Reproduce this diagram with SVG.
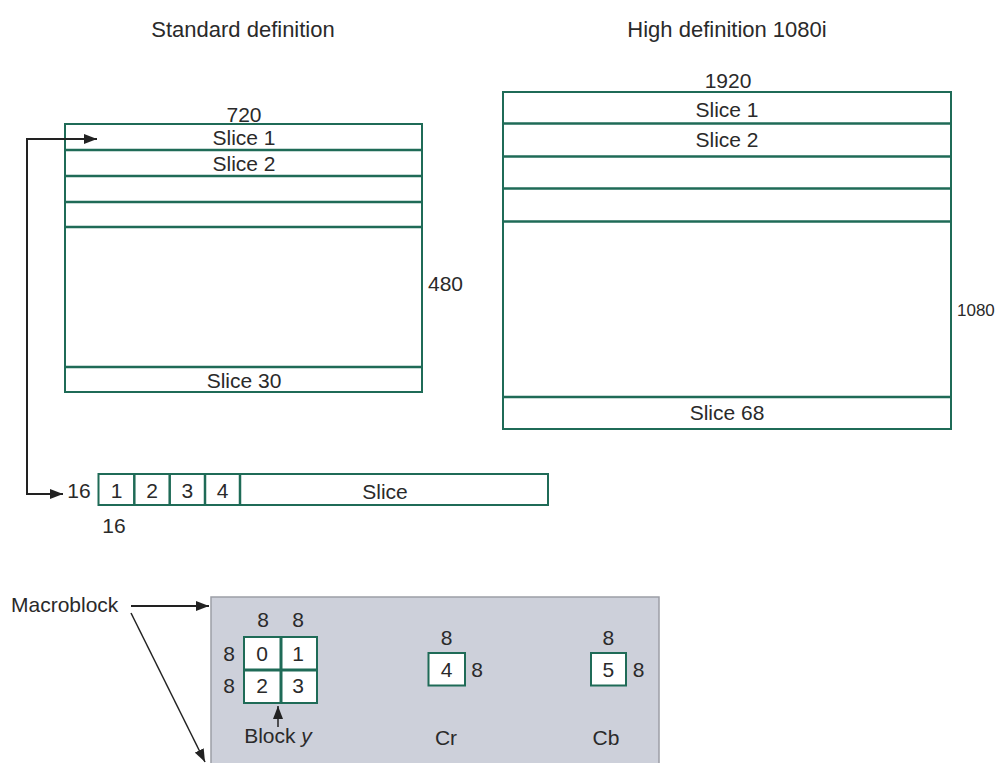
<svg xmlns="http://www.w3.org/2000/svg" width="999" height="763" viewBox="0 0 999 763">
<defs>
<style>
text{font-family:"Liberation Sans",Arial,sans-serif;font-size:21px;fill:#2a2a2a}
.m{text-anchor:middle}
.t{font-size:22px}
.box{fill:#fff;stroke:#1f6b57;stroke-width:2}
.div{stroke:#1f6b57;stroke-width:2.5}
.con{fill:none;stroke:#222;stroke-width:2}
</style>
<marker id="ah" viewBox="0 0 13 10" refX="13" refY="5" markerWidth="13" markerHeight="10" markerUnits="userSpaceOnUse" orient="auto-start-reverse">
<path d="M0,0 L13,5 L0,10 z" fill="#222"/>
</marker>
</defs>
<rect width="999" height="763" fill="#fff"/>

<g id="titles">
<text x="243" y="37" class="m t">Standard definition</text>
<text x="727" y="37" class="m t">High definition 1080i</text>
</g>

<g id="sd">
<rect class="box" x="65" y="124" width="357" height="268"/>
<line class="div" x1="65" y1="150" x2="422" y2="150"/>
<line class="div" x1="65" y1="176" x2="422" y2="176"/>
<line class="div" x1="65" y1="202" x2="422" y2="202"/>
<line class="div" x1="65" y1="227" x2="422" y2="227"/>
<line class="div" x1="65" y1="367" x2="422" y2="367"/>
<text x="244" y="122" class="m">720</text>
<text x="244" y="145" class="m">Slice 1</text>
<text x="244" y="171" class="m">Slice 2</text>
<text x="244" y="388" class="m">Slice 30</text>
<text x="428" y="291">480</text>
</g>

<g id="hd">
<rect class="box" x="503" y="92" width="448" height="337"/>
<line class="div" x1="503" y1="123.5" x2="951" y2="123.5"/>
<line class="div" x1="503" y1="156.5" x2="951" y2="156.5"/>
<line class="div" x1="503" y1="188.5" x2="951" y2="188.5"/>
<line class="div" x1="503" y1="221.5" x2="951" y2="221.5"/>
<line class="div" x1="503" y1="397" x2="951" y2="397"/>
<text x="728" y="88" class="m">1920</text>
<text x="727" y="117" class="m">Slice 1</text>
<text x="727" y="147" class="m">Slice 2</text>
<text x="727" y="420" class="m">Slice 68</text>
<text x="957" y="316" style="font-size:17px">1080</text>
</g>

<g id="strip">
<rect class="box" x="98.5" y="474" width="449.5" height="31"/>
<line class="div" x1="134.3" y1="474" x2="134.3" y2="505"/>
<line class="div" x1="169.7" y1="474" x2="169.7" y2="505"/>
<line class="div" x1="205" y1="474" x2="205" y2="505"/>
<line class="div" x1="240" y1="474" x2="240" y2="505"/>
<text x="116.5" y="498" class="m">1</text>
<text x="152" y="498" class="m">2</text>
<text x="187.3" y="498" class="m">3</text>
<text x="222.5" y="498" class="m">4</text>
<text x="385" y="499" class="m">Slice</text>
<text x="79" y="498" class="m">16</text>
<text x="114" y="533" class="m">16</text>
</g>

<g id="macroblock">
<rect x="211" y="597" width="448" height="170" fill="#cdd0da" stroke="#9c9ea6" stroke-width="1.5"/>
<rect class="box" x="244" y="637" width="73" height="66"/>
<line class="div" x1="281" y1="637" x2="281" y2="703" style="stroke-width:3"/>
<line class="div" x1="244" y1="670" x2="317" y2="670" style="stroke-width:3"/>
<text x="263" y="627" class="m">8</text>
<text x="298" y="627" class="m">8</text>
<text x="229" y="661" class="m">8</text>
<text x="229" y="693" class="m">8</text>
<text x="262" y="661" class="m">0</text>
<text x="298" y="661" class="m">1</text>
<text x="262" y="693" class="m">2</text>
<text x="298" y="693" class="m">3</text>
<text x="278" y="743" class="m">Block <tspan font-style="italic">y</tspan></text>
<rect class="box" x="428.5" y="653" width="36.5" height="32.5"/>
<text x="446.7" y="645" class="m">8</text>
<text x="446.7" y="677" class="m">4</text>
<text x="477" y="677" class="m">8</text>
<text x="446" y="745" class="m">Cr</text>
<rect class="box" x="591" y="653" width="35" height="32.5"/>
<text x="608.3" y="645" class="m">8</text>
<text x="608.3" y="677" class="m">5</text>
<text x="638.5" y="677" class="m">8</text>
<text x="606" y="745" class="m">Cb</text>
<text x="11" y="612">Macroblock</text>
</g>

<g id="connectors">
<path class="con" d="M97,139 H27 V494 H63" marker-start="url(#ah)" marker-end="url(#ah)"/>
<line class="con" x1="131" y1="606" x2="209" y2="606" marker-end="url(#ah)"/>
<line class="con" x1="131" y1="613" x2="205" y2="762" marker-end="url(#ah)" style="stroke-width:1.5"/>
<line class="con" x1="278" y1="727" x2="278" y2="706" marker-end="url(#ah)" style="stroke-width:1.5"/>
</g>
</svg>
